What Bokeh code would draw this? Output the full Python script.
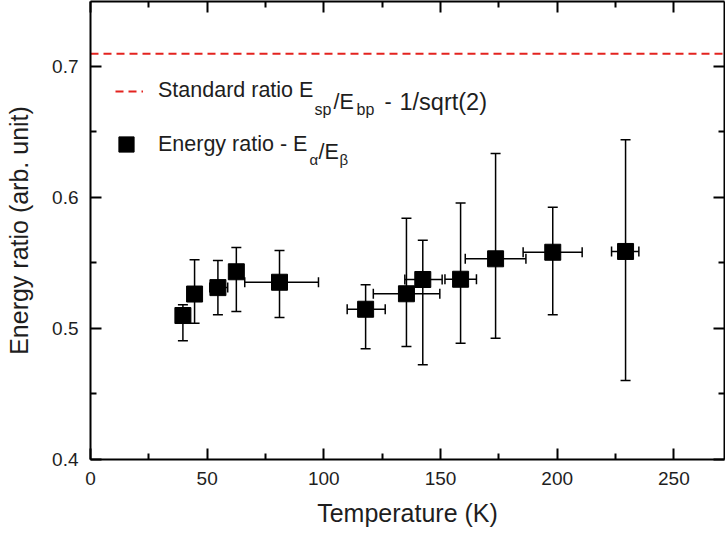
from bokeh.plotting import figure
from bokeh.models import (ColumnDataSource, Whisker, TeeHead, Legend, LegendItem, Label,
                          LinearAxis, FixedTicker, Range1d)
from bokeh.embed import file_html
from bokeh.resources import INLINE

# ---- data ----
temperature  = [39.6, 44.6, 54.6, 62.5, 81.0, 117.9, 135.4, 142.4, 158.6, 173.6, 198.1, 229.3]
temp_low     = [37.6, 42.6, 51.1, 60.5, 66.1, 110.0, 121.2, 134.7, 151.9, 160.6, 185.4, 223.3]
temp_high    = [41.6, 46.6, 58.8, 64.5, 97.7, 126.3, 149.7, 150.7, 165.4, 186.6, 210.7, 235.0]
energy_ratio = [0.5099, 0.5263, 0.5312, 0.5433, 0.5353, 0.5147, 0.5265, 0.5374, 0.5376, 0.5532, 0.5582, 0.5588]
ratio_low    = [0.4906, 0.5040, 0.5105, 0.5130, 0.5084, 0.4845, 0.4863, 0.4723, 0.4888, 0.4926, 0.5105, 0.4603]
ratio_high   = [0.5181, 0.5524, 0.5519, 0.5618, 0.5595, 0.5334, 0.5842, 0.5674, 0.5957, 0.6336, 0.5926, 0.6440]

# standard ratio line as drawn in the reference (~1/sqrt(2))
standard_T = [0, 280]
standard_ratio = [0.7097, 0.7097]

x_ticks = [0, 50, 100, 150, 200, 250]
x_minor = [25, 75, 125, 175, 225]
y_ticks = [0.4, 0.5, 0.6, 0.7]
y_minor = [0.45, 0.55, 0.65]

FONT = "Liberation Sans"
TXT = "#1e1e1e"

src = ColumnDataSource(dict(T=temperature, T_lo=temp_low, T_hi=temp_high,
                            E=energy_ratio, E_lo=ratio_low, E_hi=ratio_high))

p = figure(width=725, height=536, output_backend="svg", toolbar_location=None,
           x_range=Range1d(0, 271.7), y_range=Range1d(0.4, 0.7496),
           min_border_left=90, min_border_right=1, min_border_top=1, min_border_bottom=77,
           x_axis_label="Temperature (K)", y_axis_label="Energy ratio (arb. unit)")
p.outline_line_color = None
p.xgrid.visible = False
p.ygrid.visible = False
p.background_fill_color = "white"
p.border_fill_color = "white"


def style(ax, ticker, labels=True):
    ax.ticker = ticker
    ax.axis_line_color = "black"
    ax.axis_line_width = 2
    ax.major_tick_in = 11
    ax.major_tick_out = 0
    ax.minor_tick_in = 6
    ax.minor_tick_out = 0
    ax.major_tick_line_width = 2
    ax.minor_tick_line_width = 2
    ax.major_tick_line_color = "black"
    ax.minor_tick_line_color = "black"
    ax.major_label_text_font = FONT
    ax.major_label_text_color = TXT
    ax.axis_label_text_font = FONT
    ax.axis_label_text_font_style = "normal"
    ax.axis_label_text_font_size = "25px"
    ax.axis_label_text_color = TXT
    if labels:
        ax.major_label_text_font_size = "19px"
    else:
        ax.major_label_text_font_size = "1px"
        ax.major_label_text_alpha = 0
        ax.major_label_standoff = 0


style(p.xaxis[0], FixedTicker(ticks=x_ticks, minor_ticks=x_minor))
p.xaxis[0].major_label_standoff = 12
p.xaxis[0].axis_label_standoff = 11
style(p.yaxis[0], FixedTicker(ticks=y_ticks, minor_ticks=y_minor))
p.yaxis[0].major_label_standoff = 12
p.yaxis[0].axis_label_standoff = 16

top = LinearAxis()
style(top, FixedTicker(ticks=x_ticks, minor_ticks=x_minor), labels=False)
p.add_layout(top, "above")
right = LinearAxis()
style(right, FixedTicker(ticks=y_ticks, minor_ticks=y_minor), labels=False)
p.add_layout(right, "right")

# standard ratio line
std_r = p.line(standard_T, standard_ratio, line_color="#e3231f", line_width=2, line_dash="8 5")

# error bars
head = dict(size=10, line_width=1.5, line_color="black")
p.add_layout(Whisker(source=src, base="T", lower="E_lo", upper="E_hi", dimension="height",
                     line_color="black", line_width=1.5, level="underlay",
                     upper_head=TeeHead(**head), lower_head=TeeHead(**head)))
p.add_layout(Whisker(source=src, base="E", lower="T_lo", upper="T_hi", dimension="width",
                     line_color="black", line_width=1.5, level="underlay",
                     upper_head=TeeHead(**head), lower_head=TeeHead(**head)))

pts = p.scatter("T", "E", source=src, marker="square", size=16,
                fill_color="black", line_color="black")

# legends (first part of each entry; subscripts are completed by labels)
common = dict(padding=0, margin=0, spacing=0, border_line_alpha=0, background_fill_alpha=0,
              label_text_font=FONT, label_text_font_size="21.5px", label_text_color=TXT)
leg1 = Legend(items=[LegendItem(label="Standard ratio E", renderers=[std_r])],
              location=(25, 356), glyph_width=28, glyph_height=20, label_height=20,
              label_standoff=15, **common)
leg2 = Legend(items=[LegendItem(label="Energy ratio - E", renderers=[pts])],
              location=(17, 296), glyph_width=38, glyph_height=38, label_height=38,
              label_standoff=13, **common)
p.add_layout(leg1, "center")
p.add_layout(leg2, "center")

FRAME_L, FRAME_B = 90, 459
pieces = [
    # text, page x, page baseline y, size
    ("sp", 314, 109, "16px"),
    ("/E", 333, 101, "21.5px"),
    ("bp", 356, 109, "16px"),
    ("-", 384, 101, "21.5px"),
    ("1/sqrt(2)", 399, 101, "23.5px"),
    ("\u03b1", 309, 159, "15px"),
    ("/E", 318, 151, "21.5px"),
    ("\u03b2", 339, 159, "15px"),
]
for t, px, py, fs in pieces:
    p.add_layout(Label(x=px - FRAME_L, y=FRAME_B - py, x_units="screen", y_units="screen",
                       text=t, text_font=FONT, text_font_size=fs, text_color=TXT,
                       text_baseline="alphabetic", text_align="left"))

open("out.html", "w").write(file_html(p, INLINE))
